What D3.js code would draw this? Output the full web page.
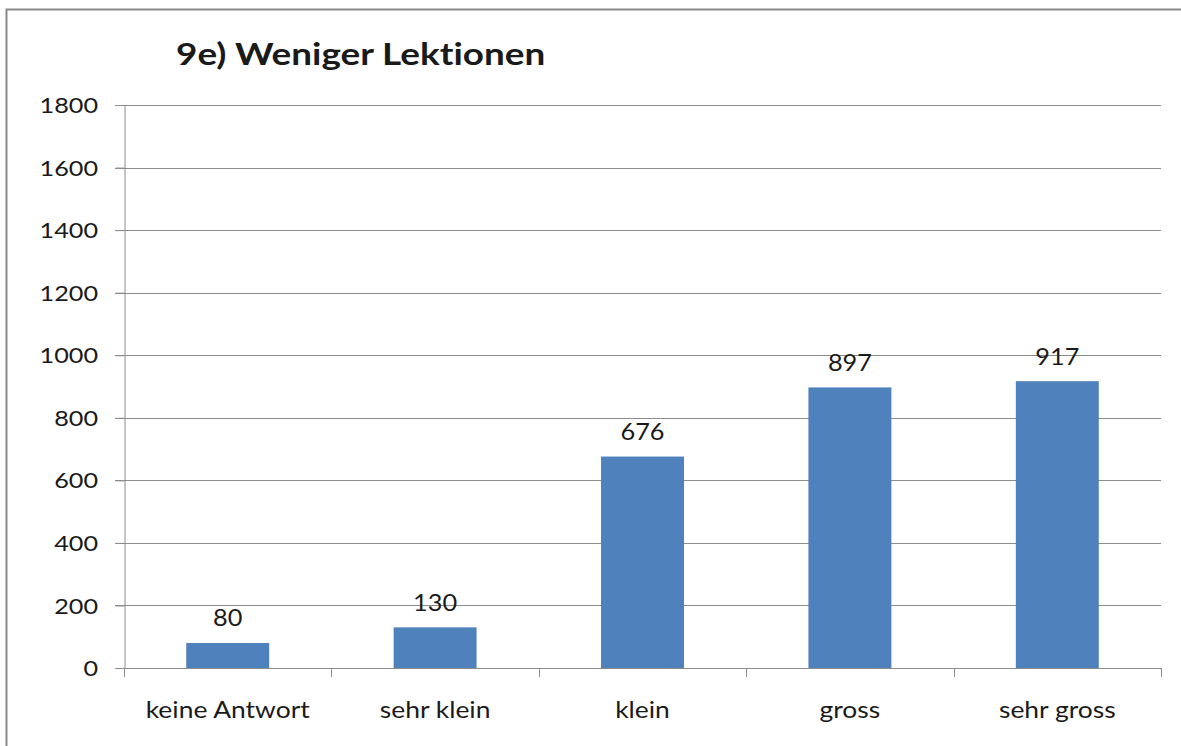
<!DOCTYPE html>
<html><head><meta charset="utf-8">
<script src="https://cdn.jsdelivr.net/npm/d3@7"></script>
<style>
html,body{margin:0;padding:0;background:#fff;}
svg{display:block;}
text{font-family:Lato,"Open Sans",sans-serif;fill:#1a1a1a;font-variant-ligatures:none;font-feature-settings:"liga" 0;}
</style></head>
<body>
<script>
const title = "9e) Weniger Lektionen";
const categories = ["keine Antwort", "sehr klein", "klein", "gross", "sehr gross"];
const values = [80, 130, 676, 897, 917];
const yTicks = [0, 200, 400, 600, 800, 1000, 1200, 1400, 1600, 1800];

const W = 1181, H = 746;
const m = {left: 124, right: 20, top: 105, bottom: 78};
const svg = d3.select("body").append("svg").attr("width", W).attr("height", H);

// outer frame (top and left edges visible)
svg.append("path").attr("d", `M6.5,${H} L6.5,9.5 L${W},9.5`)
  .attr("fill", "none").attr("stroke", "#8a8a8a").attr("stroke-width", 2);

const x = d3.scaleBand().domain(categories).range([m.left, W - m.right]).paddingInner(0.6).paddingOuter(0.3);
const xb = d3.scaleBand().domain(categories).range([m.left, W - m.right]);
const y = d3.scaleLinear().domain([0, 1800]).range([H - m.bottom, m.top]);

// gridlines
svg.append("g").selectAll("line").data(yTicks.filter(d => d > 0)).join("line")
  .attr("x1", m.left - 9).attr("x2", W - m.right)
  .attr("y1", d => Math.round(y(d)) + 0.5).attr("y2", d => Math.round(y(d)) + 0.5)
  .attr("stroke", "#8c8c8c").attr("stroke-width", 1);

// y axis
const sxY = 1.2;
const ya = svg.append("g").attr("transform", `translate(${m.left + 0.5},0)`)
  .call(d3.axisLeft(y).tickValues(yTicks).tickFormat(d3.format("d")).tickSize(9).tickPadding(17));
ya.select(".domain").attr("stroke", "#8c8c8c");
ya.selectAll(".tick line").attr("stroke", "#8c8c8c");
ya.selectAll(".tick text").attr("font-size", 21).attr("font-family", "Lato").attr("fill", "#1a1a1a")
  .attr("x", -26.5 / sxY).attr("dy", "0.36em").attr("transform", `scale(${sxY},1)`);

// bars
svg.append("g").selectAll("rect").data(values).join("rect")
  .attr("x", (d, i) => x(categories[i]))
  .attr("width", x.bandwidth())
  .attr("y", d => y(d))
  .attr("height", d => y(0) - y(d))
  .attr("fill", "#4F81BD");

// x axis
const xa = svg.append("g").attr("transform", `translate(0,${Math.round(y(0)) + 0.5})`)
  .call(d3.axisBottom(xb).tickSize(0).tickPadding(0));
xa.select(".domain").attr("stroke", "#8c8c8c").attr("d", `M${m.left},0H${W - m.right}`);
xa.selectAll(".tick text").attr("font-size", 23).attr("font-family", "Lato").attr("fill", "#1a1a1a")
  .attr("y", 49.5).attr("dy", 0).attr("transform", "scale(1.15,1)");
// category boundary ticks
const bounds = categories.map(c => xb(c)).concat([W - m.right]);
svg.append("g").selectAll("line").data(bounds).join("line")
  .attr("x1", d => Math.round(d) + 0.5).attr("x2", d => Math.round(d) + 0.5)
  .attr("y1", y(0)).attr("y2", y(0) + 9)
  .attr("stroke", "#8c8c8c");

// value labels
const sxV = 1.1;
svg.append("g").selectAll("text").data(values).join("text")
  .attr("transform", (d, i) => `translate(${x(categories[i]) + x.bandwidth() / 2},${y(d) - 16.5}) scale(${sxV},1)`)
  .attr("text-anchor", "middle").attr("font-size", 23)
  .text(d => d);

// title
svg.append("text").attr("transform", "translate(176,64.5) scale(1.25,1)")
  .attr("font-size", 29.5).attr("font-weight", "bold").text(title);
</script>
</body></html>
